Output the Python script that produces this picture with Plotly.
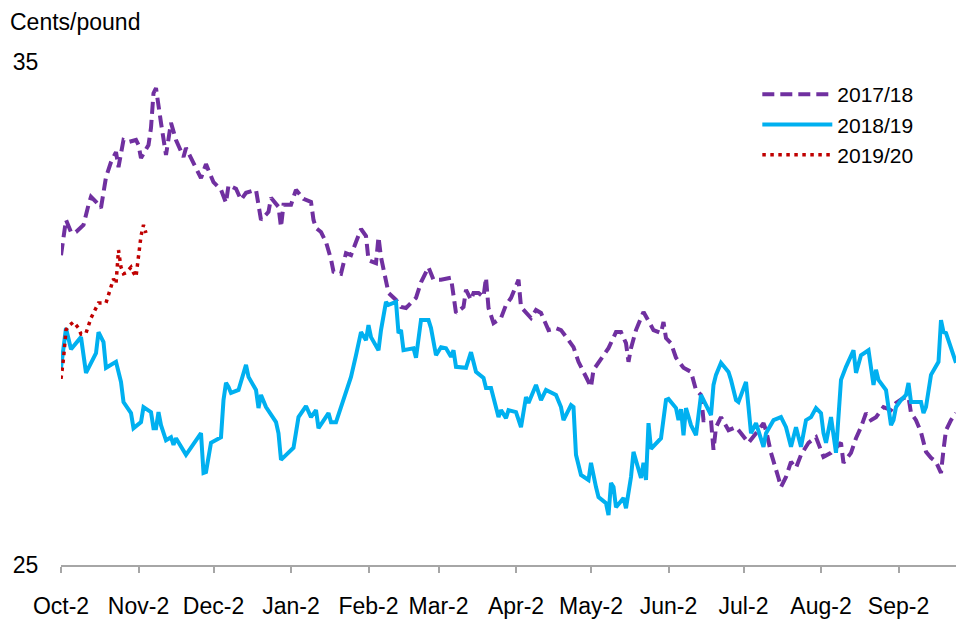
import pandas as pd
import plotly.graph_objects as go

# day offsets from Oct-2 and prices in cents/pound
days_1718 = [0, 1, 2, 4, 5, 6, 9, 11, 12, 14,
             16, 18, 20, 22, 23, 25, 27, 30, 31, 32,
             35, 36, 37, 38, 39, 40, 42, 44, 46, 49,
             50, 53, 56, 58, 61, 64, 66, 67, 70, 72,
             74, 78, 80, 83, 84, 87, 88, 89, 92, 94,
             97, 100, 101, 102, 104, 106, 108, 109, 112, 114,
             116, 118, 120, 122, 123, 126, 127, 128, 130, 131,
             134, 136, 138, 142, 144, 147, 149, 152, 156, 157,
             158, 161, 162, 164, 165, 167, 169, 170, 171, 173,
             176, 178, 180, 183, 184, 188, 190, 192, 195, 198,
             200, 203, 205, 207, 210, 212, 213, 216, 219, 222,
             224, 226, 227, 228, 230, 233, 235, 237, 240, 241,
             242, 244, 246, 249, 252, 254, 256, 257, 260, 261,
             262, 264, 267, 270, 272, 275, 278, 281, 282, 284,
             287, 288, 290, 292, 294, 296, 299, 302, 305, 308,
             312, 313, 316, 318, 320, 322, 324, 326, 329, 332,
             334, 337, 339, 340, 342, 344, 346, 348, 350, 352,
             353, 354, 356, 358]
price_1718 = [31.16, 31.46, 31.86, 31.62, 31.60, 31.62, 31.76, 32.16, 32.32, 32.22,
              32.10, 32.71, 33.01, 33.21, 32.91, 33.45, 33.41, 33.45, 33.35, 33.09,
              33.35, 33.69, 34.38, 34.48, 34.11, 33.79, 33.15, 33.79, 33.45, 33.11,
              33.29, 32.99, 32.69, 32.97, 32.61, 32.46, 32.20, 32.55, 32.48, 32.26,
              32.40, 32.46, 31.86, 32.02, 32.30, 32.12, 31.72, 32.16, 32.16, 32.46,
              32.28, 32.22, 31.86, 31.70, 31.62, 31.42, 31.08, 30.83, 30.79, 31.20,
              31.16, 31.42, 31.68, 31.54, 31.06, 31.00, 31.52, 31.12, 30.67, 30.41,
              30.27, 30.13, 30.11, 30.31, 30.62, 30.92, 30.67, 30.67, 30.71, 30.37,
              30.01, 30.13, 30.47, 30.27, 30.41, 30.41, 30.33, 30.71, 30.11, 29.81,
              29.91, 30.17, 30.31, 30.67, 30.13, 29.91, 30.07, 30.01, 29.67, 29.71,
              29.67, 29.47, 29.33, 29.04, 28.72, 28.54, 28.88, 29.08, 29.31, 29.63,
              29.63, 29.41, 29.04, 29.31, 29.67, 30.03, 29.83, 29.67, 29.61, 29.83,
              29.51, 29.41, 29.12, 28.92, 28.84, 28.48, 28.38, 27.88, 27.88, 27.29,
              27.74, 27.94, 27.68, 27.74, 27.62, 27.43, 27.62, 27.82, 27.68, 27.23,
              26.73, 26.55, 26.75, 27.05, 26.93, 27.19, 27.43, 27.54, 27.15, 27.23,
              27.43, 27.03, 27.23, 27.52, 27.74, 28.02, 27.88, 27.94, 28.14, 28.08,
              28.22, 28.32, 28.34, 28.02, 27.88, 27.64, 27.25, 27.13, 27.05, 26.83,
              27.29, 27.68, 27.88, 28.02]

days_1819 = [0, 2, 4, 8, 10, 14, 15, 17, 18, 22,
             24, 25, 28, 29, 32, 33, 36, 37, 38, 39,
             40, 42, 44, 45, 46, 50, 56, 57, 58, 60,
             64, 65, 66, 67, 68, 71, 74, 75, 78, 79,
             80, 82, 86, 87, 88, 93, 95, 98, 100, 102,
             103, 107, 108, 110, 112, 114, 116, 118, 120, 122,
             123, 124, 127, 128, 130, 131, 134, 135, 136, 137,
             141, 142, 144, 147, 148, 150, 152, 154, 156, 157,
             158, 162, 164, 166, 169, 170, 172, 175, 176, 178,
             179, 182, 184, 186, 187, 190, 192, 194, 198, 200,
             201, 204, 205, 206, 208, 211, 212, 214, 215, 218,
             219, 220, 221, 222, 225, 226, 228, 229, 231, 232,
             233, 234, 235, 236, 240, 242, 243, 246, 247, 248,
             249, 250, 252, 254, 256, 258, 260, 261, 262, 264,
             267, 268, 270, 271, 274, 275, 276, 278, 280, 281,
             282, 285, 288, 290, 292, 294, 296, 298, 300, 302,
             304, 305, 306, 308, 310, 312, 314, 317, 318, 320,
             323, 325, 326, 327, 330, 332, 333, 334, 336, 338,
             339, 340, 344, 345, 346, 348, 351, 352, 353, 354,
             358]
price_1819 = [28.92, 29.71, 29.29, 29.53, 28.82, 29.21, 29.63, 29.43, 28.92, 29.04,
              28.64, 28.24, 28.02, 27.72, 27.84, 28.14, 28.04, 27.72, 27.72, 28.04,
              27.78, 27.48, 27.54, 27.39, 27.52, 27.19, 27.62, 26.83, 26.85, 27.43,
              27.54, 28.28, 28.62, 28.54, 28.42, 28.48, 28.98, 28.74, 28.48, 28.12,
              28.38, 28.14, 27.84, 27.62, 27.09, 27.33, 27.94, 28.16, 27.94, 28.08,
              27.72, 28.02, 27.84, 27.84, 28.14, 28.42, 28.74, 29.17, 29.63, 29.47,
              29.77, 29.53, 29.27, 29.67, 30.23, 30.17, 30.23, 29.61, 29.67, 29.27,
              29.31, 29.12, 29.87, 29.87, 29.71, 29.17, 29.33, 29.31, 29.14, 29.27,
              28.94, 28.92, 29.23, 28.84, 28.72, 28.52, 28.52, 27.94, 28.08, 27.92,
              28.08, 28.04, 27.74, 28.34, 28.22, 28.58, 28.28, 28.48, 28.38, 28.14,
              27.88, 28.18, 28.14, 27.19, 26.79, 26.69, 27.03, 26.55, 26.35, 26.23,
              25.99, 26.63, 26.55, 26.15, 26.33, 26.13, 26.75, 27.25, 26.85, 26.73,
              27.03, 26.69, 27.82, 27.31, 27.52, 28.28, 28.30, 28.12, 27.88, 28.10,
              27.58, 28.12, 27.78, 27.58, 28.38, 28.18, 27.98, 28.58, 28.78, 29.02,
              28.84, 28.68, 28.28, 28.24, 28.64, 28.14, 27.62, 27.82, 27.54, 27.35,
              27.62, 27.88, 27.94, 27.74, 27.35, 27.74, 27.35, 27.88, 27.94, 28.12,
              28.02, 27.62, 27.43, 27.94, 27.23, 28.68, 28.94, 29.27, 28.82, 29.17,
              29.27, 28.58, 28.88, 28.68, 28.48, 27.78, 27.88, 28.14, 28.28, 28.38,
              28.62, 28.24, 28.24, 28.02, 28.14, 28.78, 29.04, 29.87, 29.63, 29.61,
              29.02]

days_1920 = [0, 1, 2, 3, 5, 7, 8, 10, 12, 15, 18, 20,
             21, 22, 23, 24, 25, 26, 28, 29, 30, 32, 33, 34]
price_1920 = [28.70, 29.10, 29.67, 29.75, 29.83, 29.71, 29.59, 29.61, 29.91, 30.21, 30.21, 30.51,
              30.69, 30.59, 31.26, 30.92, 30.79, 30.81, 30.92, 30.81, 30.73, 31.54, 31.76, 31.60]

tick_dates = ["2017-10-02", "2017-11-02", "2017-12-02", "2018-01-02",
              "2018-02-02", "2018-03-02", "2018-04-02", "2018-05-02",
              "2018-06-02", "2018-07-02", "2018-08-02", "2018-09-02"]
tick_labels = ["Oct-2", "Nov-2", "Dec-2", "Jan-2", "Feb-2", "Mar-2",
               "Apr-2", "May-2", "Jun-2", "Jul-2", "Aug-2", "Sep-2"]

season_start = pd.Timestamp("2017-10-02")


def to_dates(days):
    return season_start + pd.to_timedelta(days, unit="D")


font_family = "Liberation Sans, Arial, sans-serif"

fig = go.Figure()
fig.add_trace(go.Scatter(x=to_dates(days_1718), y=price_1718, mode="lines",
                         name="2017/18",
                         line=dict(color="#7030A0", width=4,
                                   dash="12px,6px")))
fig.add_trace(go.Scatter(x=to_dates(days_1819), y=price_1819, mode="lines",
                         name="2018/19",
                         line=dict(color="#00B0F0", width=4)))
fig.add_trace(go.Scatter(x=to_dates(days_1920), y=price_1920, mode="lines",
                         name="2019/20",
                         line=dict(color="#C00000", width=3.5,
                                   dash="3.5px,4.5px")))

fig.update_layout(
    width=956, height=620,
    margin=dict(l=61, r=0, t=62, b=55),
    paper_bgcolor="white", plot_bgcolor="white",
    font=dict(family=font_family, size=23, color="black"),
    title=dict(text="Cents/pound", x=10 / 956, xanchor="left",
               y=1 - 22 / 620, yanchor="middle",
               xref="container", yref="container",
               font=dict(size=23)),
    legend=dict(x=0.778, y=0.976, xanchor="left", yanchor="top",
                bgcolor="rgba(0,0,0,0)", itemwidth=70,
                font=dict(size=21)),
    xaxis=dict(type="date",
               range=[season_start, season_start + pd.Timedelta(days=358)],
               tickvals=tick_dates, ticktext=tick_labels,
               showgrid=False, showline=True, linecolor="#A6A6A6",
               linewidth=1.5, ticks="outside", ticklen=6,
               tickcolor="#A6A6A6", tickwidth=1.5,
               ticklabelstandoff=14),
    yaxis=dict(range=[25, 35], dtick=10, tick0=25,
               showgrid=True, gridcolor="#D9D9D9", gridwidth=1,
               zeroline=False, showline=False,
               ticks="outside", ticklen=17, tickcolor="rgba(0,0,0,0)"),
)

# drop the default page margin so the figure sits at the window corner
fig.write_html("out.html", config={"displayModeBar": False},
               post_script="document.body.style.margin = '0';")
